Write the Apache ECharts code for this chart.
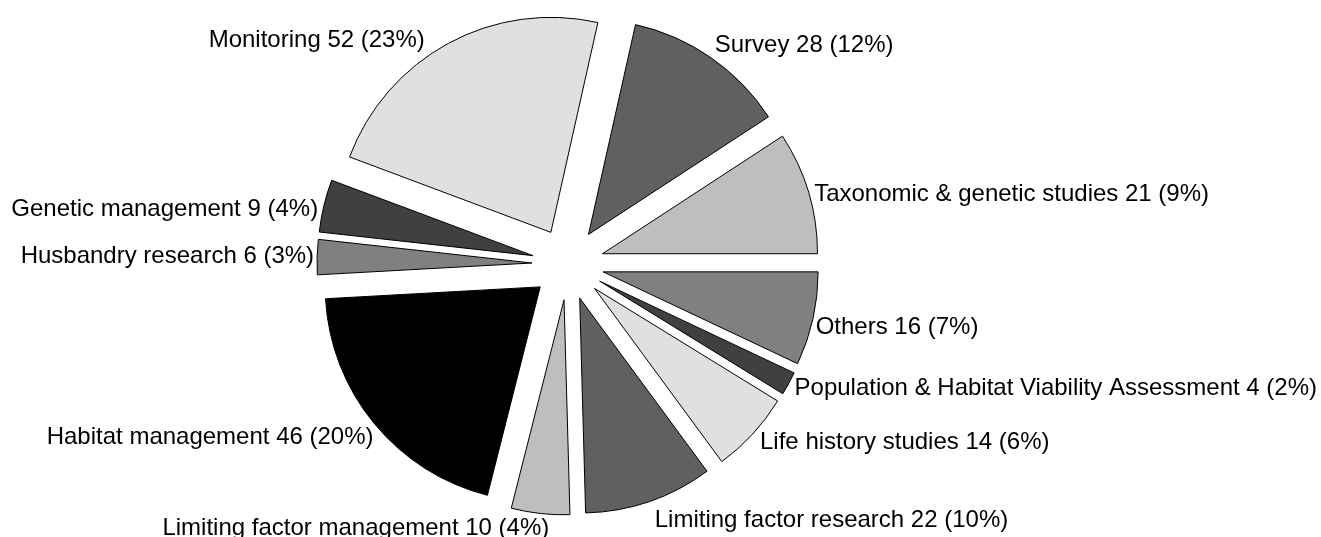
<!DOCTYPE html>
<html>
<head>
<meta charset="utf-8">
<script src="https://cdn.jsdelivr.net/npm/echarts@6/dist/echarts.min.js"></script>
<style>
  html, body { margin: 0; padding: 0; background: #ffffff; }
  #chart { width: 1321px; height: 537px; }
</style>
</head>
<body>
<div id="chart"></div>
<script>
// Categories in drawing order (counter-clockwise from 3 o'clock)
const categories = [
  'Taxonomic & genetic studies',
  'Survey',
  'Monitoring',
  'Genetic management',
  'Husbandry research',
  'Habitat management',
  'Limiting factor management',
  'Limiting factor research',
  'Life history studies',
  'Population & Habitat Viability Assessment',
  'Others'
];
const counts = [21, 28, 52, 9, 6, 46, 10, 22, 14, 4, 16];

// Styling (kept apart from the data)
const sliceColors = ['#bebebe', '#606060', '#e0e0e0', '#404040', '#808080', '#000000',
                     '#bebebe', '#606060', '#e0e0e0', '#404040', '#808080'];
// small per-label nudges [dx, dy] in pixels, to follow the reference label placement
const labelNudge = [[-4, 5], [-2, -4], [-19, 6], [4, 6], [7, 0], [7, 7],
                    [10, 5], [2, 10], [0, 2], [-3, 0], [-7, 6]];

const total = counts.reduce((a, b) => a + b, 0);

const chart = echarts.init(document.getElementById('chart'), null, { renderer: 'canvas' });

let cum = 0;
const data = categories.map((name, i) => {
  const mid = (cum + counts[i] / 2) / total * 2 * Math.PI; // ccw from 3 o'clock
  cum += counts[i];
  const side = Math.cos(mid) < 0 ? -1 : 1;
  return {
    name: name,
    value: counts[i],
    selected: true,
    itemStyle: { color: sliceColors[i] },
    label: { distanceToLabelLine: labelNudge[i][0] * side }
  };
});

chart.setOption({
  animation: false,
  backgroundColor: '#ffffff',
  series: [{
    type: 'pie',
    center: [568, 264],
    radius: 215,
    startAngle: 0,
    clockwise: false,
    selectedMode: 'multiple',
    selectedOffset: 36,
    avoidLabelOverlap: false,
    percentPrecision: 0,
    itemStyle: { borderColor: '#000000', borderWidth: 1 },
    select: { itemStyle: { borderColor: '#000000', borderWidth: 1 } },
    emphasis: { disabled: true },
    label: {
      show: true,
      position: 'outside',
      color: '#000000',
      fontFamily: '"Liberation Sans", Arial, sans-serif',
      fontSize: 24,
      distanceToLabelLine: 0,
      formatter: p => p.name + ' ' + p.value + ' (' + Math.round(p.value / total * 100) + '%)'
    },
    labelLine: { show: false, length: 10, length2: 0 },
    labelLayout: p => ({ dy: labelNudge[p.dataIndex][1] }),
    data: data
  }]
});
</script>
</body>
</html>
